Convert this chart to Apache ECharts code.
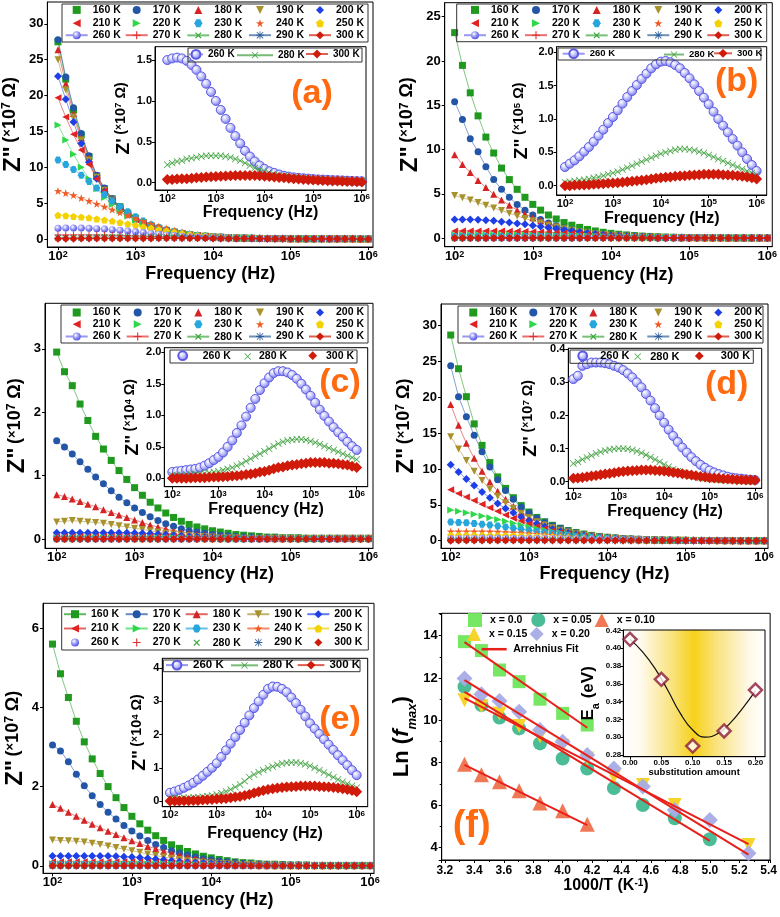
<!DOCTYPE html>
<html><head><meta charset="utf-8">
<script src="https://cdn.jsdelivr.net/npm/echarts@6/dist/echarts.min.js"></script>
<style>html,body{margin:0;padding:0;background:#fff}#c{width:780px;height:917px}</style>
</head><body><div id="c"></div><script>
// ---------------- DATA ----------------
const freq = [100,125.9,158.5,199.5,251.2,316.2,398.1,501.2,631,794.3,
 1000,1259,1585,1995,2512,3162,3981,5012,6310,7943,
 1e4,12589,15849,19953,25119,31623,39811,50119,63096,79433,
 1e5,125893,158489,199526,251189,316228,398107,501187,630957,794328,1e6];
const temps = ['160 K','170 K','180 K','190 K','200 K','210 K','220 K','230 K','240 K','250 K','260 K','270 K','280 K','290 K','300 K'];

// panel (a) main, Z'' in 10^7 ohm
const A160 = [27.5,22.3,18.0,14.5,11.5,8.8,7.0,5.6,4.5,3.6, 2.9,2.3,1.85,1.5,1.2,0.95,0.76,0.6,0.48,0.38, 0.3,0.24,0.19,0.15,0.12,0.1,0.08,0.06,0.05,0.05, 0.04,0.04,0.03,0.03,0.03,0.02,0.02,0.02,0.02,0.01,0.01];
const A170 = [27.8,22.6,18.3,14.7,11.6,8.9,7.1,5.6,4.5,3.6, 2.9,2.3,1.85,1.5,1.2,0.95,0.76,0.6,0.48,0.38, 0.3,0.24,0.19,0.15,0.12,0.1,0.08,0.06,0.05,0.05, 0.04,0.04,0.03,0.03,0.03,0.02,0.02,0.02,0.02,0.01,0.01];
const A180 = [26.4,21.6,17.5,14.1,11.3,8.7,6.9,5.5,4.4,3.5, 2.8,2.25,1.8,1.45,1.17,0.93,0.74,0.59,0.47,0.37, 0.3,0.24,0.19,0.15,0.12,0.1,0.08,0.06,0.05,0.05, 0.04,0.04,0.03,0.03,0.03,0.02,0.02,0.02,0.02,0.01,0.01];
const A190 = [25.0,20.8,17.0,13.8,11.0,8.6,6.8,5.4,4.3,3.45, 2.75,2.2,1.77,1.42,1.15,0.92,0.73,0.58,0.46,0.37, 0.3,0.24,0.19,0.15,0.12,0.1,0.08,0.06,0.05,0.05, 0.04,0.04,0.03,0.03,0.03,0.02,0.02,0.02,0.02,0.01,0.01];
const A200 = [22.7,19.5,16.3,13.3,10.7,8.4,6.6,5.3,4.2,3.4, 2.7,2.17,1.75,1.4,1.13,0.9,0.72,0.57,0.46,0.36, 0.29,0.23,0.18,0.15,0.12,0.1,0.08,0.06,0.05,0.05, 0.04,0.04,0.03,0.03,0.03,0.02,0.02,0.02,0.02,0.01,0.01];
const A210 = [19.7,17.0,14.6,12.4,10.4,8.4,6.7,5.3,4.2,3.4, 2.7,2.15,1.73,1.39,1.12,0.9,0.72,0.57,0.45,0.36, 0.29,0.23,0.18,0.15,0.12,0.1,0.08,0.06,0.05,0.05, 0.04,0.04,0.03,0.03,0.03,0.02,0.02,0.02,0.02,0.01,0.01];
const A220 = [15.9,13.8,11.8,10.0,8.4,7.0,5.8,4.8,3.9,3.2, 2.6,2.1,1.7,1.37,1.1,0.88,0.7,0.56,0.45,0.36, 0.29,0.23,0.18,0.15,0.12,0.1,0.08,0.06,0.05,0.05, 0.04,0.04,0.03,0.03,0.03,0.02,0.02,0.02,0.02,0.01,0.01];
const A230 = [11.0,10.4,9.7,8.9,8.0,7.1,6.2,5.3,4.5,3.8, 3.1,2.5,2.0,1.6,1.27,1.0,0.79,0.62,0.49,0.38, 0.3,0.24,0.19,0.15,0.12,0.1,0.08,0.06,0.05,0.05, 0.04,0.04,0.03,0.03,0.03,0.02,0.02,0.02,0.02,0.01,0.01];
const A240 = [6.7,6.4,6.1,5.7,5.3,4.9,4.5,4.1,3.7,3.3, 2.9,2.5,2.1,1.75,1.45,1.18,0.95,0.75,0.59,0.46, 0.36,0.28,0.22,0.17,0.13,0.1,0.08,0.06,0.05,0.05, 0.04,0.04,0.03,0.03,0.03,0.02,0.02,0.02,0.02,0.01,0.01];
const A250 = [3.3,3.25,3.15,3.05,2.95,2.8,2.65,2.5,2.3,2.1, 1.9,1.7,1.5,1.3,1.1,0.92,0.76,0.62,0.5,0.4, 0.32,0.25,0.2,0.16,0.13,0.1,0.08,0.07,0.06,0.05, 0.04,0.04,0.03,0.03,0.03,0.02,0.02,0.02,0.02,0.01,0.01];
const A270 = [0.55,0.56,0.57,0.57,0.57,0.56,0.55,0.53,0.51,0.48, 0.45,0.41,0.37,0.33,0.29,0.25,0.21,0.18,0.15,0.13, 0.11,0.09,0.08,0.07,0.06,0.05,0.05,0.04,0.04,0.04, 0.03,0.03,0.03,0.03,0.02,0.02,0.02,0.02,0.02,0.02,0.02];
const A290 = [0.12,0.12,0.13,0.13,0.13,0.13,0.13,0.13,0.13,0.13, 0.13,0.12,0.12,0.11,0.1,0.09,0.08,0.07,0.06,0.05, 0.05,0.04,0.04,0.03,0.03,0.03,0.02,0.02,0.02,0.02, 0.02,0.02,0.01,0.01,0.01,0.01,0.01,0.01,0.01,0.01,0.01];
// panel (a) inset, Z' in 10^7 ohm
const IA260 = [1.5,1.52,1.53,1.52,1.49,1.44,1.38,1.3,1.21,1.11, 1.0,0.89,0.78,0.67,0.57,0.48,0.39,0.32,0.26,0.21, 0.17,0.14,0.12,0.1,0.085,0.075,0.065,0.06,0.055,0.05, 0.045,0.04,0.038,0.035,0.032,0.03,0.028,0.025,0.022,0.02,0.018];
const IA280 = [0.22,0.24,0.26,0.27,0.29,0.3,0.31,0.32,0.33,0.33, 0.33,0.33,0.32,0.31,0.29,0.27,0.24,0.21,0.18,0.16, 0.14,0.12,0.1,0.09,0.08,0.07,0.06,0.055,0.05,0.045, 0.04,0.038,0.035,0.032,0.03,0.028,0.025,0.022,0.02,0.018,0.016];
const IA300 = [0.04,0.04,0.045,0.05,0.05,0.055,0.06,0.065,0.07,0.072, 0.075,0.08,0.082,0.085,0.087,0.088,0.088,0.088,0.087,0.085, 0.08,0.075,0.07,0.065,0.06,0.055,0.05,0.045,0.04,0.037, 0.034,0.03,0.028,0.025,0.022,0.02,0.018,0.016,0.014,0.012,0.01];

// panel (b) main, 10^7 ohm
const B160 = [23.2,19.5,16.4,13.8,11.4,9.6,7.9,6.6,5.5,4.6, 3.8,3.15,2.6,2.15,1.75,1.45,1.2,0.97,0.8,0.65, 0.53,0.43,0.35,0.28,0.22,0.18,0.14,0.11,0.09,0.07, 0.06,0.05,0.04,0.03,0.03,0.02,0.02,0.02,0.01,0.01,0.01];
const B170 = [15.4,13.4,11.2,9.75,8.05,6.6,5.5,4.6,3.8,3.15, 2.6,2.1,1.7,1.4,1.12,0.9,0.72,0.58,0.46,0.37, 0.3,0.24,0.19,0.15,0.12,0.1,0.08,0.06,0.05,0.04, 0.03,0.03,0.02,0.02,0.02,0.01,0.01,0.01,0.01,0.01,0.01];
const B180 = [9.4,8.3,7.4,6.5,5.7,4.95,4.3,3.7,3.15,2.7, 2.3,1.95,1.6,1.32,1.08,0.88,0.71,0.57,0.46,0.37, 0.3,0.24,0.19,0.15,0.12,0.1,0.08,0.06,0.05,0.04, 0.03,0.03,0.02,0.02,0.02,0.01,0.01,0.01,0.01,0.01,0.01];
const B190 = [4.8,4.55,4.3,4.0,3.7,3.4,3.1,2.8,2.5,2.2, 1.95,1.7,1.45,1.25,1.05,0.88,0.72,0.59,0.48,0.39, 0.31,0.25,0.2,0.16,0.13,0.1,0.08,0.06,0.05,0.04, 0.03,0.03,0.02,0.02,0.02,0.01,0.01,0.01,0.01,0.01,0.01];
const B200 = [2.1,2.1,2.1,2.05,2.0,1.95,1.85,1.75,1.65,1.55, 1.42,1.3,1.17,1.04,0.92,0.8,0.68,0.57,0.47,0.39, 0.32,0.26,0.21,0.17,0.14,0.11,0.09,0.07,0.06,0.05, 0.04,0.03,0.03,0.02,0.02,0.02,0.01,0.01,0.01,0.01,0.01];
const B210 = [0.8,0.8,0.8,0.8,0.8,0.79,0.78,0.77,0.76,0.74, 0.72,0.69,0.66,0.62,0.58,0.53,0.48,0.43,0.38,0.33, 0.28,0.24,0.2,0.17,0.14,0.11,0.09,0.07,0.06,0.05, 0.04,0.03,0.03,0.02,0.02,0.02,0.01,0.01,0.01,0.01,0.01];
const B220 = [0.38,0.38,0.38,0.38,0.38,0.38,0.37,0.37,0.37,0.36, 0.35,0.34,0.33,0.32,0.3,0.28,0.26,0.24,0.22,0.2, 0.17,0.15,0.13,0.11,0.09,0.08,0.07,0.06,0.05,0.04, 0.03,0.03,0.02,0.02,0.02,0.02,0.01,0.01,0.01,0.01,0.01];
const B230 = [0.16,0.16,0.16,0.16,0.16,0.16,0.16,0.16,0.16,0.16, 0.16,0.16,0.15,0.15,0.14,0.14,0.13,0.12,0.11,0.1, 0.09,0.08,0.07,0.06,0.05,0.05,0.04,0.04,0.03,0.03, 0.02,0.02,0.02,0.02,0.01,0.01,0.01,0.01,0.01,0.01,0.01];
const B240 = [0.07,0.07,0.07,0.07,0.07,0.07,0.07,0.07,0.07,0.07, 0.07,0.07,0.07,0.07,0.07,0.06,0.06,0.06,0.05,0.05, 0.05,0.04,0.04,0.04,0.03,0.03,0.03,0.02,0.02,0.02, 0.02,0.01,0.01,0.01,0.01,0.01,0.01,0.01,0.01,0.01,0.01];
const B250 = [0.03,0.03,0.03,0.03,0.03,0.03,0.03,0.03,0.03,0.03, 0.03,0.03,0.03,0.03,0.03,0.03,0.03,0.03,0.03,0.03, 0.03,0.03,0.03,0.02,0.02,0.02,0.02,0.02,0.02,0.01, 0.01,0.01,0.01,0.01,0.01,0.01,0.01,0.01,0.01,0.01,0.01];
const B270 = [0.015,0.015,0.015,0.015,0.015,0.015,0.015,0.015,0.015,0.015, 0.015,0.015,0.015,0.015,0.015,0.015,0.015,0.015,0.015,0.015, 0.014,0.013,0.012,0.011,0.01,0.01,0.01,0.01,0.01,0.01, 0.01,0.01,0.01,0.01,0.01,0.01,0.01,0.01,0.01,0.01,0.01];
const B290 = [0.006,0.006,0.006,0.006,0.006,0.006,0.006,0.006,0.006,0.006, 0.006,0.006,0.006,0.006,0.006,0.006,0.006,0.006,0.006,0.006, 0.006,0.006,0.006,0.006,0.006,0.006,0.006,0.005,0.005,0.005, 0.005,0.005,0.005,0.005,0.005,0.004,0.004,0.004,0.004,0.004,0.004];
// panel (b) inset, Z'' in 10^5 ohm
const IB260 = [0.28,0.33,0.38,0.44,0.51,0.58,0.66,0.75,0.84,0.94, 1.03,1.13,1.23,1.33,1.42,1.51,1.6,1.68,1.76,1.82, 1.86,1.87,1.85,1.81,1.76,1.69,1.61,1.52,1.42,1.32, 1.22,1.11,1.0,0.9,0.8,0.7,0.6,0.5,0.4,0.31,0.22];
const IB280 = [0.05,0.06,0.07,0.08,0.09,0.1,0.12,0.13,0.15,0.17, 0.19,0.21,0.24,0.27,0.3,0.33,0.36,0.39,0.42,0.45, 0.48,0.5,0.52,0.54,0.55,0.55,0.54,0.53,0.51,0.49, 0.46,0.43,0.4,0.37,0.34,0.31,0.28,0.25,0.22,0.19,0.16];
const IB300 = [0.0,0.0,0.005,0.01,0.01,0.015,0.02,0.025,0.03,0.035, 0.04,0.045,0.05,0.06,0.065,0.075,0.08,0.09,0.1,0.11, 0.12,0.125,0.13,0.14,0.145,0.15,0.155,0.16,0.165,0.17, 0.17,0.17,0.17,0.165,0.16,0.155,0.15,0.14,0.13,0.12,0.1];

// panel (c) main, 10^7 ohm
const C160 = [2.95,2.64,2.42,2.13,1.87,1.62,1.42,1.24,1.08,0.94, 0.81,0.69,0.58,0.49,0.41,0.34,0.28,0.23,0.19,0.16, 0.13,0.11,0.09,0.07,0.06,0.05,0.04,0.03,0.03,0.02, 0.02,0.02,0.01,0.01,0.01,0.01,0.01,0.01,0.01,0.01,0.01];
const C170 = [1.55,1.45,1.34,1.22,1.1,0.98,0.87,0.76,0.66,0.57, 0.49,0.42,0.35,0.29,0.24,0.2,0.16,0.13,0.11,0.09, 0.07,0.06,0.05,0.04,0.03,0.03,0.02,0.02,0.02,0.01, 0.01,0.01,0.01,0.01,0.01,0.01,0.01,0.01,0.01,0.01,0.01];
const C180 = [0.7,0.67,0.63,0.59,0.55,0.51,0.46,0.42,0.38,0.34, 0.3,0.26,0.22,0.19,0.16,0.13,0.11,0.09,0.07,0.06, 0.05,0.04,0.03,0.03,0.02,0.02,0.02,0.01,0.01,0.01, 0.01,0.01,0.01,0.01,0.01,0.01,0.01,0.01,0.01,0.01,0.01];
const C190 = [0.27,0.28,0.29,0.28,0.27,0.26,0.25,0.23,0.21,0.19, 0.17,0.15,0.13,0.11,0.09,0.08,0.06,0.05,0.04,0.04, 0.03,0.02,0.02,0.02,0.01,0.01,0.01,0.01,0.01,0.01, 0.01,0.01,0.01,0.01,0.01,0.01,0.01,0.01,0.01,0.01,0.01];
const C200 = [0.1,0.1,0.1,0.1,0.1,0.1,0.1,0.1,0.1,0.1, 0.095,0.09,0.085,0.08,0.07,0.06,0.05,0.04,0.035,0.03, 0.025,0.02,0.015,0.01,0.01,0.01,0.01,0.01,0.005,0.005, 0.005,0.005,0.005,0.005,0.005,0.005,0.005,0.005,0.005,0.005,0.005];
const C210 = [0.04,0.04,0.04,0.04,0.04,0.04,0.04,0.04,0.04,0.04, 0.04,0.04,0.04,0.04,0.035,0.03,0.03,0.025,0.02,0.02, 0.015,0.01,0.01,0.01,0.005,0.005,0.005,0.005,0.005,0.005, 0.005,0.005,0.005,0.005,0.005,0.005,0.005,0.005,0.005,0.005,0.005];
const C220 = [0.02,0.02,0.02,0.02,0.02,0.02,0.02,0.02,0.02,0.02, 0.02,0.02,0.02,0.02,0.02,0.018,0.016,0.014,0.012,0.01, 0.008,0.006,0.005,0.004,0.003,0.003,0.003,0.003,0.003,0.003, 0.003,0.003,0.003,0.003,0.003,0.003,0.003,0.003,0.003,0.003,0.003];
const C230 = [0.012,0.012,0.012,0.012,0.012,0.012,0.012,0.012,0.012,0.012, 0.012,0.012,0.012,0.012,0.012,0.011,0.01,0.009,0.008,0.007, 0.006,0.005,0.004,0.003,0.003,0.003,0.003,0.003,0.003,0.003, 0.003,0.003,0.003,0.003,0.003,0.003,0.003,0.003,0.003,0.003,0.003];
const C240 = [0.008,0.008,0.008,0.008,0.008,0.008,0.008,0.008,0.008,0.008, 0.008,0.008,0.008,0.008,0.008,0.008,0.007,0.007,0.006,0.006, 0.005,0.005,0.004,0.004,0.003,0.003,0.003,0.003,0.003,0.003, 0.003,0.003,0.003,0.003,0.003,0.003,0.003,0.003,0.003,0.003,0.003];
const C250 = [0.005,0.005,0.005,0.005,0.005,0.005,0.005,0.005,0.005,0.005, 0.005,0.005,0.005,0.005,0.005,0.005,0.005,0.005,0.005,0.005, 0.004,0.004,0.004,0.004,0.003,0.003,0.003,0.003,0.003,0.003, 0.003,0.003,0.003,0.003,0.003,0.003,0.003,0.003,0.003,0.003,0.003];
const C270 = [0.003,0.003,0.003,0.003,0.003,0.003,0.003,0.003,0.003,0.003, 0.003,0.003,0.003,0.003,0.003,0.003,0.003,0.003,0.003,0.003, 0.003,0.003,0.003,0.003,0.003,0.003,0.003,0.003,0.003,0.003, 0.003,0.003,0.003,0.003,0.003,0.003,0.003,0.003,0.003,0.003,0.003];
const C290 = [0.002,0.002,0.002,0.002,0.002,0.002,0.002,0.002,0.002,0.002, 0.002,0.002,0.002,0.002,0.002,0.002,0.002,0.002,0.002,0.002, 0.002,0.002,0.002,0.002,0.002,0.002,0.002,0.002,0.002,0.002, 0.002,0.002,0.002,0.002,0.002,0.002,0.002,0.002,0.002,0.002,0.002];
// panel (c) inset, Z'' in 10^4 ohm
const IC260 = [0.1,0.11,0.12,0.13,0.14,0.15,0.17,0.2,0.24,0.29, 0.34,0.41,0.5,0.6,0.72,0.84,0.98,1.12,1.26,1.4, 1.51,1.6,1.67,1.7,1.7,1.68,1.64,1.58,1.5,1.41, 1.31,1.2,1.09,0.99,0.9,0.81,0.73,0.66,0.58,0.51,0.45];
const IC280 = [0.05,0.05,0.05,0.06,0.06,0.07,0.07,0.08,0.09,0.1, 0.11,0.13,0.15,0.17,0.2,0.23,0.27,0.31,0.35,0.39, 0.43,0.47,0.51,0.55,0.58,0.6,0.61,0.62,0.62,0.61, 0.59,0.57,0.54,0.51,0.48,0.45,0.42,0.39,0.36,0.33,0.3];
const IC300 = [0,0,0,0,0.005,0.01,0.01,0.01,0.015,0.02, 0.02,0.025,0.03,0.035,0.04,0.05,0.06,0.07,0.08,0.1, 0.11,0.13,0.15,0.17,0.18,0.2,0.21,0.22,0.23,0.24, 0.25,0.25,0.25,0.25,0.24,0.24,0.23,0.22,0.21,0.19,0.17];

// panel (d) main, 10^7 ohm
const D160 = [28.7,24.0,20.1,16.3,13.3,10.9,8.9,7.3,6.0,4.9, 4.0,3.25,2.65,2.15,1.75,1.42,1.15,0.93,0.75,0.6, 0.48,0.39,0.31,0.25,0.2,0.16,0.13,0.1,0.08,0.07, 0.05,0.04,0.04,0.03,0.03,0.02,0.02,0.02,0.02,0.01,0.01];
const D170 = [24.4,20.1,17.3,14.7,12.4,10.3,8.5,7.0,5.8,4.7, 3.85,3.15,2.55,2.1,1.7,1.38,1.12,0.9,0.73,0.58, 0.47,0.38,0.3,0.24,0.19,0.15,0.12,0.1,0.08,0.06, 0.05,0.04,0.03,0.03,0.02,0.02,0.02,0.02,0.01,0.01,0.01];
const D180 = [19.0,16.1,13.6,11.5,9.7,8.2,6.9,5.8,4.8,4.0, 3.3,2.7,2.2,1.8,1.45,1.18,0.95,0.77,0.62,0.5, 0.4,0.32,0.26,0.21,0.17,0.14,0.11,0.09,0.07,0.06, 0.05,0.04,0.03,0.03,0.02,0.02,0.02,0.01,0.01,0.01,0.01];
const D190 = [14.5,12.8,11.2,9.7,8.4,7.2,6.2,5.3,4.5,3.8, 3.2,2.65,2.2,1.8,1.47,1.2,0.97,0.79,0.64,0.51, 0.41,0.33,0.27,0.22,0.18,0.14,0.11,0.09,0.07,0.06, 0.05,0.04,0.03,0.03,0.02,0.02,0.02,0.01,0.01,0.01,0.01];
const D200 = [10.6,9.6,8.6,7.7,6.8,6.0,5.2,4.5,3.9,3.3, 2.8,2.35,1.95,1.6,1.32,1.08,0.88,0.72,0.58,0.47, 0.38,0.31,0.25,0.2,0.16,0.13,0.1,0.08,0.07,0.05, 0.04,0.04,0.03,0.02,0.02,0.02,0.01,0.01,0.01,0.01,0.01];
const D210 = [7.1,6.6,6.1,5.6,5.1,4.6,4.1,3.6,3.15,2.75, 2.35,2.0,1.7,1.42,1.18,0.97,0.8,0.65,0.53,0.43, 0.35,0.28,0.23,0.18,0.15,0.12,0.1,0.08,0.06,0.05, 0.04,0.03,0.03,0.02,0.02,0.02,0.01,0.01,0.01,0.01,0.01];
const D220 = [4.3,4.1,3.9,3.7,3.45,3.2,2.95,2.7,2.45,2.2, 1.95,1.72,1.5,1.3,1.1,0.92,0.77,0.63,0.52,0.42, 0.34,0.28,0.22,0.18,0.15,0.12,0.1,0.08,0.06,0.05, 0.04,0.03,0.03,0.02,0.02,0.02,0.01,0.01,0.01,0.01,0.01];
const D230 = [2.6,2.55,2.5,2.4,2.3,2.2,2.05,1.9,1.75,1.6, 1.45,1.3,1.15,1.0,0.87,0.75,0.63,0.53,0.44,0.36, 0.3,0.24,0.2,0.16,0.13,0.1,0.08,0.07,0.05,0.04, 0.04,0.03,0.02,0.02,0.02,0.01,0.01,0.01,0.01,0.01,0.01];
const D240 = [1.3,1.3,1.3,1.3,1.3,1.28,1.25,1.2,1.15,1.1, 1.03,0.96,0.88,0.8,0.71,0.62,0.54,0.46,0.39,0.33, 0.27,0.22,0.18,0.15,0.12,0.1,0.08,0.06,0.05,0.04, 0.03,0.03,0.02,0.02,0.02,0.01,0.01,0.01,0.01,0.01,0.01];
const D250 = [0.75,0.75,0.75,0.75,0.75,0.74,0.73,0.72,0.7,0.68, 0.65,0.62,0.58,0.54,0.49,0.44,0.39,0.34,0.29,0.25, 0.21,0.17,0.14,0.12,0.1,0.08,0.06,0.05,0.04,0.03, 0.03,0.02,0.02,0.02,0.01,0.01,0.01,0.01,0.01,0.01,0.01];
const D270 = [0.2,0.2,0.21,0.21,0.21,0.21,0.21,0.2,0.2,0.2, 0.19,0.18,0.17,0.16,0.15,0.13,0.12,0.1,0.09,0.08, 0.07,0.06,0.05,0.04,0.03,0.03,0.02,0.02,0.02,0.01, 0.01,0.01,0.01,0.01,0.01,0.01,0.01,0.01,0.01,0.01,0.01];
const D290 = [0.05,0.05,0.05,0.05,0.05,0.05,0.05,0.05,0.05,0.05, 0.05,0.045,0.04,0.035,0.03,0.025,0.02,0.018,0.015,0.012, 0.01,0.008,0.007,0.006,0.005,0.004,0.004,0.003,0.003,0.003, 0.002,0.002,0.002,0.002,0.002,0.002,0.002,0.002,0.002,0.002,0.002];
// panel (d) inset, Z'' in 10^7 ohm
const ID260 = [0.31,0.32,0.35,0.355,0.36,0.36,0.36,0.358,0.355,0.35, 0.345,0.337,0.327,0.315,0.3,0.285,0.265,0.245,0.222,0.2, 0.178,0.157,0.138,0.12,0.103,0.088,0.074,0.062,0.051,0.042, 0.034,0.028,0.023,0.019,0.015,0.012,0.01,0.009,0.007,0.006,0.005];
const ID280 = [0.055,0.06,0.067,0.073,0.079,0.085,0.09,0.094,0.097,0.099, 0.1,0.1,0.099,0.096,0.092,0.087,0.081,0.074,0.067,0.06, 0.052,0.045,0.038,0.032,0.027,0.022,0.018,0.015,0.012,0.01, 0.008,0.007,0.006,0.005,0.004,0.004,0.003,0.003,0.002,0.002,0.002];
const ID300 = [0.01,0.011,0.013,0.015,0.017,0.019,0.021,0.023,0.025,0.027, 0.029,0.031,0.032,0.033,0.034,0.035,0.035,0.035,0.034,0.033, 0.032,0.03,0.028,0.026,0.024,0.022,0.02,0.018,0.016,0.014, 0.012,0.011,0.01,0.009,0.008,0.007,0.006,0.006,0.005,0.005,0.004];

// panel (e) main, 10^7 ohm
const E160 = [5.6,4.85,4.25,3.65,3.13,2.7,2.33,2.0,1.72,1.47, 1.25,1.06,0.9,0.76,0.64,0.53,0.44,0.36,0.3,0.24, 0.2,0.16,0.13,0.1,0.08,0.07,0.05,0.04,0.04,0.03, 0.02,0.02,0.02,0.01,0.01,0.01,0.01,0.01,0.01,0.01,0.01];
const E170 = [3.05,2.9,2.63,2.31,2.02,1.77,1.55,1.35,1.18,1.02, 0.88,0.75,0.64,0.54,0.46,0.38,0.32,0.27,0.22,0.18, 0.15,0.12,0.1,0.08,0.06,0.05,0.04,0.03,0.03,0.02, 0.02,0.02,0.01,0.01,0.01,0.01,0.01,0.01,0.01,0.01,0.01];
const E180 = [1.55,1.45,1.35,1.25,1.15,1.05,0.96,0.87,0.79,0.71, 0.63,0.56,0.49,0.43,0.37,0.32,0.27,0.23,0.19,0.16, 0.13,0.11,0.09,0.07,0.06,0.05,0.04,0.03,0.03,0.02, 0.02,0.02,0.01,0.01,0.01,0.01,0.01,0.01,0.01,0.01,0.01];
const E190 = [0.65,0.64,0.63,0.62,0.6,0.57,0.54,0.5,0.46,0.42, 0.38,0.34,0.3,0.26,0.22,0.19,0.16,0.13,0.11,0.09, 0.07,0.06,0.05,0.04,0.03,0.03,0.02,0.02,0.02,0.01, 0.01,0.01,0.01,0.01,0.01,0.01,0.01,0.01,0.01,0.01,0.01];
const E200 = [0.25,0.25,0.25,0.25,0.25,0.25,0.25,0.25,0.24,0.23, 0.22,0.21,0.19,0.17,0.15,0.13,0.11,0.09,0.08,0.07, 0.06,0.05,0.04,0.03,0.03,0.02,0.02,0.02,0.01,0.01, 0.01,0.01,0.01,0.01,0.01,0.01,0.01,0.01,0.01,0.01,0.01];
const E210 = [0.1,0.1,0.1,0.1,0.1,0.1,0.1,0.1,0.1,0.1, 0.1,0.095,0.09,0.085,0.08,0.07,0.06,0.05,0.045,0.04, 0.035,0.03,0.025,0.02,0.015,0.01,0.01,0.01,0.005,0.005, 0.005,0.005,0.005,0.005,0.005,0.005,0.005,0.005,0.005,0.005,0.005];
const E220 = [0.05,0.05,0.05,0.05,0.05,0.05,0.05,0.05,0.05,0.05, 0.05,0.05,0.048,0.045,0.042,0.038,0.034,0.03,0.026,0.022, 0.018,0.015,0.012,0.01,0.008,0.006,0.005,0.004,0.004,0.003, 0.003,0.003,0.003,0.003,0.003,0.003,0.003,0.003,0.003,0.003,0.003];
const E230 = [0.03,0.03,0.03,0.03,0.03,0.03,0.03,0.03,0.03,0.03, 0.03,0.03,0.03,0.03,0.028,0.026,0.024,0.021,0.018,0.015, 0.012,0.01,0.008,0.006,0.005,0.004,0.004,0.003,0.003,0.003, 0.003,0.003,0.003,0.003,0.003,0.003,0.003,0.003,0.003,0.003,0.003];
const E240 = [0.02,0.02,0.02,0.02,0.02,0.02,0.02,0.02,0.02,0.02, 0.02,0.02,0.02,0.02,0.02,0.019,0.018,0.016,0.014,0.012, 0.01,0.008,0.007,0.006,0.005,0.004,0.004,0.003,0.003,0.003, 0.003,0.003,0.003,0.003,0.003,0.003,0.003,0.003,0.003,0.003,0.003];
const E250 = [0.012,0.012,0.012,0.012,0.012,0.012,0.012,0.012,0.012,0.012, 0.012,0.012,0.012,0.012,0.012,0.012,0.011,0.01,0.009,0.008, 0.007,0.006,0.005,0.005,0.004,0.004,0.003,0.003,0.003,0.003, 0.003,0.003,0.003,0.003,0.003,0.003,0.003,0.003,0.003,0.003,0.003];
const E270 = [0.006,0.006,0.006,0.006,0.006,0.006,0.006,0.006,0.006,0.006, 0.006,0.006,0.006,0.006,0.006,0.006,0.006,0.006,0.006,0.006, 0.006,0.006,0.006,0.006,0.006,0.006,0.005,0.005,0.005,0.005, 0.005,0.005,0.005,0.005,0.005,0.004,0.004,0.004,0.004,0.004,0.004];
const E290 = [0.004,0.004,0.004,0.004,0.004,0.004,0.004,0.004,0.004,0.004, 0.004,0.004,0.004,0.004,0.004,0.004,0.004,0.004,0.004,0.004, 0.004,0.004,0.004,0.004,0.004,0.004,0.004,0.004,0.004,0.004, 0.004,0.004,0.004,0.004,0.004,0.004,0.004,0.004,0.004,0.004,0.004];
// panel (e) inset, Z'' in 10^4 ohm
const IE260 = [0.25,0.29,0.34,0.4,0.47,0.55,0.65,0.76,0.88,1.0, 1.14,1.33,1.53,1.73,1.93,2.14,2.36,2.58,2.8,3.0, 3.2,3.38,3.45,3.44,3.38,3.28,3.12,2.95,2.75,2.55, 2.34,2.18,2.02,1.86,1.7,1.54,1.38,1.23,1.08,0.93,0.78];
const IE280 = [0.08,0.08,0.09,0.1,0.1,0.11,0.12,0.13,0.15,0.17, 0.2,0.24,0.29,0.35,0.42,0.5,0.6,0.72,0.8,0.87, 0.93,0.99,1.04,1.09,1.13,1.15,1.16,1.16,1.14,1.11, 1.06,1.0,0.93,0.86,0.79,0.72,0.65,0.58,0.52,0.46,0.4];
const IE300 = [0,0,0,0.01,0.01,0.02,0.02,0.03,0.04,0.05, 0.06,0.07,0.08,0.1,0.12,0.14,0.17,0.2,0.24,0.28, 0.32,0.35,0.37,0.39,0.41,0.42,0.43,0.44,0.45,0.45, 0.45,0.45,0.44,0.43,0.42,0.41,0.39,0.37,0.35,0.32,0.28];

// panel (f): ln(f_max) vs 1000/T
const invT = [3.333,3.448,3.571,3.704,3.846,4.0,4.167,4.348,4.545,4.762,5.0,5.263];
const lnX000 = [13.72,13.3,12.38,11.83,11.0,10.33,9.78,null,null,null,null,null];
const lnX005 = [11.59,10.72,10.13,9.62,8.91,8.2,7.72,6.8,6.0,5.37,4.38,null];
const lnX010 = [7.92,7.43,7.1,6.67,6.09,5.73,5.09,null,null,null,null,null];
const lnX015 = [10.95,10.67,10.33,9.73,9.25,8.8,8.2,7.34,6.94,6.0,null,4.11];
const lnX020 = [11.98,11.23,10.91,10.41,9.54,8.99,8.36,7.73,6.87,5.76,5.29,3.72];
const fit000 = [[3.333,13.7],[4.167,9.65]];
const fit005 = [[3.333,11.35],[5.0,4.3]];
const fit010 = [[3.333,7.9],[4.167,5.05]];
const fit015 = [[3.333,11.05],[5.263,4.15]];
const fit020 = [[3.333,11.9],[5.263,3.65]];
// (f) inset: activation energy vs substitution amount
const subst = [0, 0.05, 0.10, 0.15, 0.20];
const Ea = [0.41, 0.365, 0.29, 0.307, 0.353];
const EaCurveX = [0,0.02,0.04,0.06,0.08,0.10,0.12,0.14,0.16,0.18,0.20];
const EaCurveY = [0.410,0.396,0.377,0.353,0.327,0.308,0.300,0.304,0.316,0.333,0.352];

// ---------------- STYLE / LAYOUT ----------------
const FF = '"Liberation Sans", Arial, Helvetica, sans-serif';
const STAR = 'path://M50,0L61.8,35.5L99,35.5L68.9,57.4L80.4,93L50,71L19.6,93L31.1,57.4L1,35.5L38.2,35.5Z';
const PENT = 'path://M50,2L98,37L80,95L20,95L2,37Z';
const HEX = 'path://M27,4L73,4L96,50L73,96L27,96L4,50Z';
const PLUS = 'path://M43,0H57V43H100V57H57V100H43V57H0V43H43Z';
const XTHIN = 'path://M46,0H54V46H100V54H54V100H46V54H0V46H46Z';
const AST = 'path://M45,0H55V100H45Z M0,45H100V55H0Z M14,7L93,86L86,93L7,14Z M86,7L93,14L14,93L7,86Z';
const sphere = (c1, c2) => ({type:'radial', x:0.38, y:0.35, r:0.7, colorStops:[{offset:0,color:'#ffffff'},{offset:0.45,color:c1},{offset:1,color:c2}]});
const STY = {
 '160 K': {sym:'rect', c:'#1f9a1f'},
 '170 K': {sym:'circle', c:'#2456a8'},
 '180 K': {sym:'triangle', c:'#d42424'},
 '190 K': {sym:'triangle', c:'#a8922e', rot:180},
 '200 K': {sym:'diamond', c:'#1f3fe6', size:8},
 '210 K': {sym:'triangle', c:'#e02222', rot:90},
 '220 K': {sym:'triangle', c:'#2ed84a', rot:-90},
 '230 K': {sym:HEX, c:'#26a6dc'},
 '240 K': {sym:STAR, c:'#f05a24', size:8},
 '250 K': {sym:PENT, c:'#f2d200'},
 '260 K': {sym:'circle', c:sphere('#9d9df5','#4b4be2'), lc:'#6b6bef'},
 '270 K': {sym:PLUS, c:'#e03030'},
 '280 K': {sym:PLUS, c:'#3aa63a', rot:45},
 '290 K': {sym:AST, c:'#2f5f9a'},
 '300 K': {sym:'diamond', c:'#d01a0a', size:8}
};
const ISTY = {
 '260 K': {sym:'circle', c:sphere('#c3c3fa','#6a6aea'), lc:'#6b6bef', size:9, bc:'#5a5ae6'},
 '280 K': {sym:XTHIN, c:'#3c9f3c', rot:45, size:9, lc:'#3c9f3c'},
 '300 K': {sym:'diamond', c:'#d01a0a', size:11, lc:'#d01a0a'}
};

const MAIN = [
 {id:'A', box:[45,2,373,247], xr:[1.863,6.064], yr:[-1.12,33.05], sn:5, yng:7, xng:18.5,
  data:{'160 K':A160,'170 K':A170,'180 K':A180,'190 K':A190,'200 K':A200,'210 K':A210,'220 K':A220,'230 K':A230,'240 K':A240,'250 K':A250,'260 K':IA260,'270 K':A270,'280 K':IA280,'290 K':A290,'300 K':IA300},
  cols:[75.7,135.7,197.3,259,319], rows:[10.7,24,36], lbox:[62,4,368,42], lineRows:[2]},
 {id:'B', box:[444.7,2.7,774,246.7], xr:[1.873,6.064], yr:[-0.98,26.58], sn:5, yng:16.7, xng:19.5,
  data:{'160 K':B160,'170 K':B170,'180 K':B180,'190 K':B190,'200 K':B200,'210 K':B210,'220 K':B220,'230 K':B230,'240 K':B240,'250 K':B250,
        '260 K':IB260.map(v => v / 100),'270 K':B270,'280 K':IB280.map(v => v / 100),'290 K':B290,'300 K':IB300.map(v => v / 100)},
  cols:[474,535,595.7,657.3,717.3], rows:[10.7,24,36], lbox:[456.7,4,766.7,41.7], lineRows:[2]},
 {id:'C', box:[45,303.3,373,548.3], xr:[1.85,6.06], yr:[-0.147,3.72], sn:5, yng:10, xng:17.2,
  data:{'160 K':C160,'170 K':C170,'180 K':C180,'190 K':C190,'200 K':C200,'210 K':C210,'220 K':C220,'230 K':C230,'240 K':C240,'250 K':C250,
        '260 K':IC260.map(v => v / 1000),'270 K':C270,'280 K':IC280.map(v => v / 1000),'290 K':C290,'300 K':IC300.map(v => v / 1000)},
  cols:[75.7,136.7,197.3,259,319], rows:[313.3,325,337.3], lbox:[61,305,368,343], lineRows:[2]},
 {id:'D', box:[441,304,768,548.3], xr:[1.876,6.051], yr:[-1.06,33.03], sn:5, yng:15, xng:17.2,
  data:{'160 K':D160,'170 K':D170,'180 K':D180,'190 K':D190,'200 K':D200,'210 K':D210,'220 K':D220,'230 K':D230,'240 K':D240,'250 K':D250,'260 K':ID260,'270 K':D270,'280 K':ID280,'290 K':D290,'300 K':ID300},
  cols:[472.3,532.3,592.3,657.3,717.3], rows:[313.3,325,337.3], lbox:[458,306,763,343], lineRows:[2]},
 {id:'E', box:[43,603.3,374,873.3], xr:[1.88,6.05], yr:[-0.19,6.63], sn:3, yng:11, xng:17.9,
  data:{'160 K':E160,'170 K':E170,'180 K':E180,'190 K':E190,'200 K':E200,'210 K':E210,'220 K':E220,'230 K':E230,'240 K':E240,'250 K':E250,
        '260 K':IE260.map(v => v / 1000),'270 K':E270,'280 K':IE280.map(v => v / 1000),'290 K':E290,'300 K':IE300.map(v => v / 1000)},
  cols:[74,135.7,195.7,257.3,317.3], rows:[615,629.3,643.3], lbox:[61.7,606.7,368.3,650], lineRows:[0,1]}
];
const INS = [
 {id:'Ai', box:[155,46.7,366,190], xr:[1.747,6.088], yr:[-0.089,1.663], sn:3, dec:1, prime:"'", pow:7, yng:18, xng:13.5,
  data:[IA260,IA280,IA300], leg:[[188,14],[236,36],[305,22]], lcy:55, lfs:10, lines:true, lbox:[188,48,362,62], lbl:['(a)',312,94]},
 {id:'Bi', box:[556.7,46.7,766.7,195], xr:[1.827,6.21], yr:[-0.14,2.084], sn:5, dec:1, prime:'"', pow:5, yng:22, xng:15.5,
  data:[IB260,IB280,IB300], leg:[[561.7,22],[663,20],[713,18]], lcy:54, lfs:9.5, lines:true, lbox:[558,48,761,60], lbl:['(b)',736.7,81.7]},
 {id:'Ci', box:[164.3,347.7,367.7,486.7], xr:[1.826,6.239], yr:[-0.133,2.073], sn:5, dec:1, prime:'"', pow:4, yng:15, xng:13.8,
  data:[IC260,IC280,IC300], leg:[[166.7,30],[240.4,12.6],[303.4,16.6]], lcy:356.5, lfs:10.5, lines:false, lbox:[170,350,357,363], lbl:['(c)',340,383]},
 {id:'Di', box:[568.3,348.3,761.7,488.3], xr:[1.89,6.147], yr:[-0.02,0.403], sn:5, dec:1, prime:'"', pow:7, yng:25, xng:12.2,
  data:[ID260,ID280,ID300], leg:[[569.2,25],[629.2,15],[681.8,33]], lcy:357, lfs:11, lines:false, lbox:[570,350,753.3,363.3], lbl:['(d)',726.7,385]},
 {id:'Ei', box:[162.3,658.3,367.7,806.7], xr:[1.835,6.236], yr:[-0.17,4.3], sn:5, dec:0, prime:'"', pow:4, yng:9, xng:18.8,
  data:[IE260,IE280,IE300], leg:[[165,22],[230,27],[296.7,26.7]], lcy:666, lfs:11.5, lines:true, lbox:[163.3,660,360,671.7], lbl:['(e)',340,720]}
];

// ---------------- BUILD ----------------
const grids=[], xAxes=[], yAxes=[], series=[], legends=[], graphics=[];
const B = (fs, extra) => Object.assign({fontSize:fs, fontWeight:'bold', fontFamily:FF, color:'#000'}, extra || {});
function addGrid(b, z, bg) {
  grids.push({left:b[0], top:b[1], width:b[2]-b[0], height:b[3]-b[1], show:true, borderColor:'#000', borderWidth:1, backgroundColor:bg || '#fff', z:z});
  return grids.length - 1;
}
function axisCommon(z) {
  return {z:z, axisLine:{show:true, onZero:false, lineStyle:{color:'#000', width:1}}, axisTick:{show:true, length:3, lineStyle:{color:'#000', width:1}}, splitLine:{show:false}};
}
function logX(gi, xr, o) {
  return Object.assign(axisCommon(o.z), {type:'log', logBase:10, gridIndex:gi, min:Math.pow(10, xr[0]), max:Math.pow(10, xr[1]),
    axisLabel:{showMinLabel:false, showMaxLabel:false, margin:o.lm, formatter:v => '{b|10}{s|' + Math.round(Math.log10(v)) + '}',
      rich:{b:B(o.fs, {lineHeight:o.fs + 3, verticalAlign:'top'}), s:B(o.sfs, {lineHeight:o.sfs, verticalAlign:'top'})}},
    name:'Frequency (Hz)', nameLocation:'middle', nameGap:o.ng, nameTextStyle:B(o.nfs)});
}
function valY(gi, yr, o) {
  return Object.assign(axisCommon(o.z), {type:'value', gridIndex:gi, min:yr[0], max:yr[1], splitNumber:o.sn,
    axisLabel:Object.assign(B(o.fs), {showMinLabel:false, showMaxLabel:false, margin:o.lm, formatter:o.fmt}),
    name:o.name, nameLocation:'middle', nameGap:o.ng, nameTextStyle:{rich:o.rich}});
}
function zName(prime, pow, k) {
  return {name:'{z|Z' + prime + '} {p|(}{x|×}{p|10}{s|' + pow + '}{p| Ω)}',
    rich:{z:B(24*k, {lineHeight:28*k, verticalAlign:'top'}), p:B(18*k, {lineHeight:28*k, verticalAlign:'top'}),
          x:B(13*k, {lineHeight:28*k, verticalAlign:'top'}), s:B(12*k, {lineHeight:12*k, verticalAlign:'top'})}};
}
function lineSeries(id, gi, t, arr, st, z) {
  return {type:'line', name:id + '|' + t, xAxisIndex:gi, yAxisIndex:gi, z:z,
    data:freq.map((f, i) => [f, arr[i]]),
    symbol:st.sym, symbolSize:st.size || 7, symbolRotate:st.rot || 0, showAllSymbol:true,
    itemStyle:{color:st.c, borderColor:st.bc || null, borderWidth:st.bc ? 1 : 0},
    lineStyle:{color:st.lc || st.c, width:0.8, opacity:0.7}, emphasis:{disabled:true}, silent:true};
}
function legendItem(name, left, cy, w, h, fs, opt) {
  opt = opt || {};
  const d = {name:name};
  if (opt.noLine) d.lineStyle = {opacity:0};
  if (opt.icon) d.icon = opt.icon;
  const bh = Math.max(h, fs * 1.2);
  return {show:true, data:[d], left:left, top:cy - bh / 2, itemWidth:w, itemHeight:h, itemGap:0, padding:0,
    selectedMode:false, formatter:n => n.split('|')[1], z:opt.z || 4,
    textStyle:B(fs, {padding:opt.tp || 0})};
}
function rect(b, z) {
  return {type:'rect', z:z, shape:{x:b[0], y:b[1], width:b[2]-b[0], height:b[3]-b[1]}, style:{fill:null, stroke:'#333', lineWidth:1}, silent:true};
}

MAIN.forEach(P => {
  const gi = addGrid(P.box, 0);
  xAxes.push(logX(gi, P.xr, {z:1, fs:13, sfs:9, lm:3, nfs:18, ng:P.xng}));
  const zn = zName('"', 7, 1);
  yAxes.push(valY(gi, P.yr, {z:1, sn:P.sn, fs:13, lm:4, fmt:v => String(Math.round(v)), name:zn.name, rich:zn.rich, ng:P.yng}));
  temps.forEach(t => series.push(lineSeries(P.id, gi, t, P.data[t], STY[t], 2)));
  temps.forEach((t, k) => {
    const r = Math.floor(k / 5), c = k % 5;
    legends.push(legendItem(P.id + '|' + t, P.cols[c] - 11, P.rows[r], 22, 10, 10.5, {noLine:P.lineRows.indexOf(r) < 0}));
  });
  graphics.push(rect(P.lbox, 3));
});

INS.forEach(I => {
  const gi = addGrid(I.box, 10);
  xAxes.push(logX(gi, I.xr, {z:11, fs:11, sfs:8, lm:3, nfs:16, ng:I.xng}));
  const zn = zName(I.prime, I.pow, 0.8);
  yAxes.push(valY(gi, I.yr, {z:11, sn:I.sn, fs:11, lm:3, fmt:v => I.dec ? v.toFixed(I.dec) : String(Math.round(v)), name:zn.name, rich:zn.rich, ng:I.yng}));
  ['260 K','280 K','300 K'].forEach((t, k) => {
    series.push(lineSeries(I.id, gi, t, I.data[k], ISTY[t], 12 + k));
    legends.push(legendItem(I.id + '|' + t, I.leg[k][0], I.lcy, I.leg[k][1], 11, I.lfs, {noLine:!I.lines, z:14}));
  });
  graphics.push(rect(I.lbox, 13));
  graphics.push({type:'text', z:20, x:I.lbl[1], y:I.lbl[2], silent:true,
    style:{text:I.lbl[0], fontSize:34, fontWeight:'bold', fontFamily:FF, fill:'#ff6a10', align:'center', verticalAlign:'middle', textAlign:'center', textVerticalAlign:'middle'}});
});

// panel (f)
const gF = addGrid([441.7,613.3,771,860], 0);
xAxes.push(Object.assign(axisCommon(1), {type:'value', gridIndex:gF, min:3.178, max:5.41, splitNumber:11,
  minorTick:{show:true, splitNumber:2, length:2, lineStyle:{color:'#000'}},
  axisLabel:Object.assign(B(12), {showMinLabel:false, showMaxLabel:false, margin:5, formatter:v => v.toFixed(1)}),
  name:'{t|1000/T (K}{s|-1}{t|)}', nameLocation:'middle', nameGap:17.7,
  nameTextStyle:{rich:{t:B(16, {lineHeight:20, verticalAlign:'top'}), s:B(10, {lineHeight:10, verticalAlign:'top'})}}}));
yAxes.push(Object.assign(axisCommon(1), {type:'value', gridIndex:gF, min:3.4, max:15.06, splitNumber:5,
  minorTick:{show:true, splitNumber:2, length:2, lineStyle:{color:'#000'}},
  axisLabel:Object.assign(B(13), {showMinLabel:false, showMaxLabel:false, margin:4, formatter:v => String(Math.round(v))}),
  name:'{l|Ln (}{f|f}{m|max}{l|)}', nameLocation:'middle', nameGap:16,
  nameTextStyle:{rich:{l:B(22, {lineHeight:28, verticalAlign:'top'}), f:B(22, {fontStyle:'italic', lineHeight:28, verticalAlign:'top'}),
    m:B(13, {fontStyle:'italic', lineHeight:13, verticalAlign:'bottom'})}}}));
const FSER = [
 ['x = 0.0', lnX000, 'rect', '#6ee65a', 13, 0],
 ['x = 0.05', lnX005, 'circle', '#40b890', 14, 0],
 ['x = 0.10', lnX010, 'triangle', '#f0714c', 15, 0],
 ['x = 0.15', lnX015, 'triangle', '#f6d21e', 14, 180],
 ['x = 0.20', lnX020, 'diamond', '#a6abe6', 16, 0]
];
FSER.forEach(s => series.push({type:'scatter', name:'F|' + s[0], xAxisIndex:gF, yAxisIndex:gF, z:3, silent:true,
  data:invT.map((x, i) => [x, s[1][i]]).filter(p => p[1] !== null),
  symbol:s[2], symbolSize:s[4], symbolRotate:s[5], itemStyle:{color:s[3], opacity:0.95}}));
[fit000, fit005, fit010, fit015, fit020].forEach(f => series.push({type:'line', name:'F|Arrehnius Fit', xAxisIndex:gF, yAxisIndex:gF, z:5, silent:true,
  data:f, symbol:'none', lineStyle:{color:'#e8201a', width:2}, itemStyle:{color:'#e8201a'}}));
const FLEG = [['x = 0.0',475,620],['x = 0.05',538.3,620],['x = 0.10',601.7,620],['x = 0.15',474,634],['x = 0.20',536.7,634]];
FLEG.forEach(l => legends.push(legendItem('F|' + l[0], l[1] - 7, l[2], 14, 14, 10.5, {tp:[0,0,0,3]})));
legends.push(legendItem('F|Arrehnius Fit', 481.7, 650, 28, 2.5, 10.5, {icon:'path://M0,0H40V4H0Z'}));
graphics.push({type:'text', z:20, x:471.7, y:826.7, silent:true,
  style:{text:'(f)', fontSize:38, fontWeight:'bold', fontFamily:FF, fill:'#ff6a10', align:'center', verticalAlign:'middle', textAlign:'center', textVerticalAlign:'middle'}});

// (f) inset
const gFi = addGrid([623.3,630,765,756.7], 10, {type:'linear', x:0, y:0, x2:1, y2:0, colorStops:[
  {offset:0, color:'#ffffff'}, {offset:0.12, color:'#fffaf0'}, {offset:0.35, color:'#f9e27a'}, {offset:0.5, color:'#f6d21a'},
  {offset:0.65, color:'#f9e27a'}, {offset:0.88, color:'#fff8e6'}, {offset:1, color:'#ffffff'}]});
xAxes.push(Object.assign(axisCommon(11), {type:'value', gridIndex:gFi, min:-0.0107, max:0.2152, splitNumber:5,
  axisLabel:Object.assign(B(8), {showMinLabel:false, showMaxLabel:false, margin:2, formatter:v => v.toFixed(2)}),
  name:'substitution amount', nameLocation:'middle', nameGap:8.3, nameTextStyle:B(9.5)}));
yAxes.push(Object.assign(axisCommon(11), {type:'value', gridIndex:gFi, min:0.278, max:0.4205, splitNumber:7,
  axisLabel:Object.assign(B(8), {showMinLabel:false, showMaxLabel:false, margin:2, formatter:v => v.toFixed(2)}),
  name:'{e|E}{a|a}{t| (eV)}', nameLocation:'middle', nameGap:17,
  nameTextStyle:{rich:{e:B(17, {lineHeight:22, verticalAlign:'top'}), a:B(11, {lineHeight:11, verticalAlign:'bottom'}), t:B(17, {lineHeight:22, verticalAlign:'top'})}}}));
series.push({type:'line', name:'Fi|curve', xAxisIndex:gFi, yAxisIndex:gFi, z:12, silent:true, smooth:true,
  data:EaCurveX.map((x, i) => [x, EaCurveY[i]]), symbol:'none', lineStyle:{color:'#111', width:1.2}});
series.push({type:'scatter', name:'Fi|Ea', xAxisIndex:gFi, yAxisIndex:gFi, z:13, silent:true,
  data:subst.map((x, i) => [x, Ea[i]]), symbol:'diamond', symbolSize:13,
  itemStyle:{color:'#ffffff', borderColor:'#8c1a3a', borderWidth:2.5}});

const chart = echarts.init(document.getElementById('c'), null, {renderer:'canvas'});
chart.setOption({animation:false, backgroundColor:'#fff', grid:grids, xAxis:xAxes, yAxis:yAxes, series:series, legend:legends, graphic:{elements:graphics}, tooltip:{show:false}});
</script></body></html>
